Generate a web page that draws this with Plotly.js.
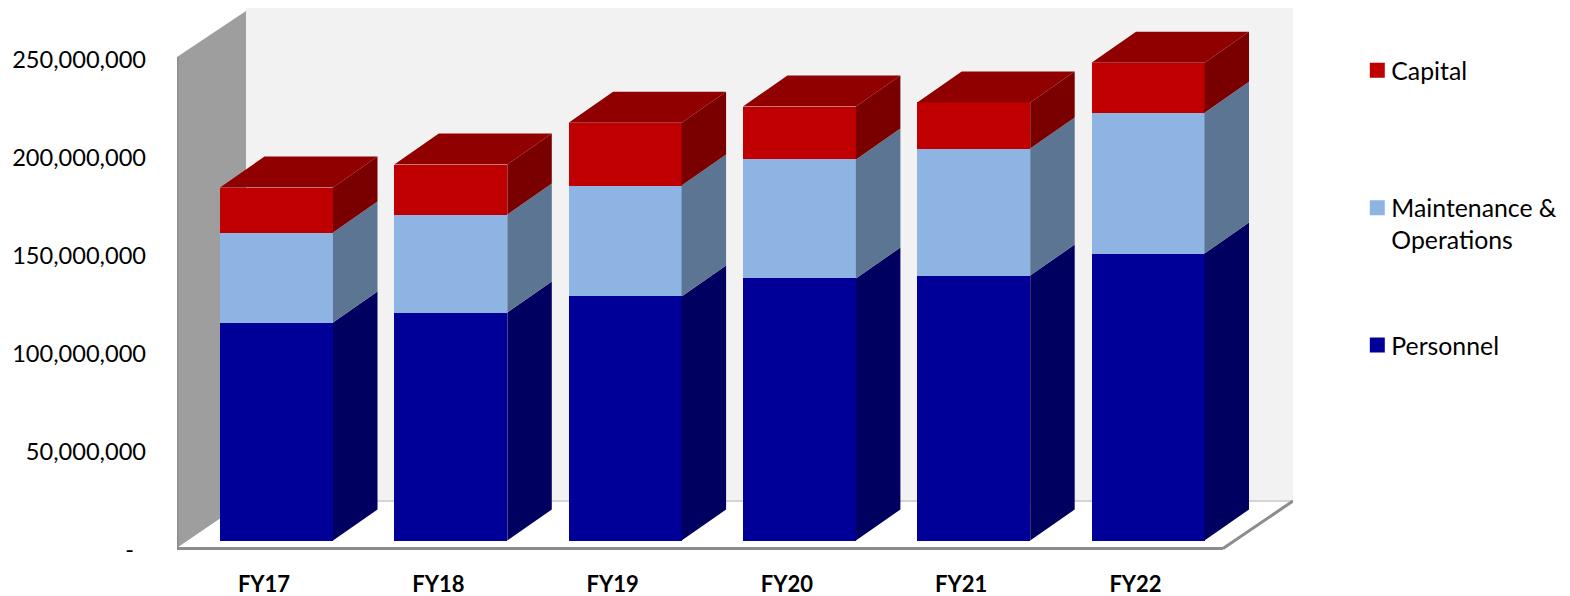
<!DOCTYPE html>
<html>
<head>
<meta charset="utf-8">
<script src="https://cdn.plot.ly/plotly-3.0.1.min.js"></script>
<style>html,body{margin:0;padding:0;background:#fff}#chart{width:1570px;height:596px}</style>
</head>
<body>
<div id="chart"></div>
<script>
var categories = ["FY17","FY18","FY19","FY20","FY21","FY22"];
var personnel = [111200000,116300000,124500000,133700000,135200000,146400000];
var maintenance = [45900000,50000000,56600000,60700000,64800000,71900000];
var capital = [23000000,25500000,32100000,27000000,23500000,25500000];
var yTicks = [0,50000000,100000000,150000000,200000000,250000000];
var yTickText = ["-\u00a0\u00a0","50,000,000","100,000,000","150,000,000","200,000,000","250,000,000"];

var FONT = "Lato, 'Open Sans', sans-serif";
var pxPerCat = 174.3, pxPerVal = 98/50000000;
var plotL = 177, plotR = 1293, plotT = 8, plotB = 550;
var cat0Px = 276.5, zeroPx = 540.5, labelZeroPx = 550;
function X(px){ return (px-cat0Px)/pxPerCat; }
function Y(px){ return (zeroPx-px)/pxPerVal; }
var depthX = 44.5/pxPerCat, depthY = 31/pxPerVal, barW = 113/pxPerCat;
var idx = categories.map(function(_,i){return i;});

function sidePoly(base, val){
  var xs=[], ys=[];
  idx.forEach(function(i){
    var r=i+barW/2, b=base[i], t=base[i]+val[i];
    xs.push(r,r+depthX,r+depthX,r,r,null);
    ys.push(b,b+depthY,t+depthY,t,b,null);
  });
  return {x:xs,y:ys};
}
function topPoly(top){
  var xs=[], ys=[];
  idx.forEach(function(i){
    var l=i-barW/2, r=i+barW/2, t=top[i];
    xs.push(l,r,r+depthX,l+depthX,l,null);
    ys.push(t,t,t+depthY,t+depthY,t,null);
  });
  return {x:xs,y:ys};
}
var base0 = idx.map(function(){return 0;});
var base1 = personnel.slice();
var base2 = idx.map(function(i){return personnel[i]+maintenance[i];});
var tops = idx.map(function(i){return base2[i]+capital[i];});

function bar(name,vals,col,rank){
  return {type:'bar',name:name,x:idx,y:vals,width:barW,legendgroup:name,legendrank:rank,hoverinfo:'y+name',
    marker:{color:col,line:{width:0}}};
}
function face(p,col){
  return {type:'scatter',mode:'lines',x:p.x,y:p.y,fill:'toself',fillcolor:col,
    line:{width:0,color:col},showlegend:false,hoverinfo:'skip'};
}
var traces = [
  bar('Personnel',personnel,'#000099',3),
  bar('Maintenance &<br>Operations',maintenance,'#8db4e2',2),
  bar('Capital',capital,'#c00000',1),
  face(sidePoly(base0,personnel),'#000060'),
  face(sidePoly(base1,maintenance),'#5c7593'),
  face(sidePoly(base2,capital),'#7a0000'),
  face(topPoly(tops),'#910000'),
  {type:'scatter',mode:'markers',x:[0],y:[0],yaxis:'y2',marker:{opacity:0},showlegend:false,hoverinfo:'skip'}
];

function poly(pts,fill){
  var d = pts.map(function(p,i){return (i?'L':'M')+X(p[0])+','+Y(p[1]);}).join(' ')+' Z';
  return {type:'path',xref:'x',yref:'y',layer:'below',path:d,fillcolor:fill,line:{color:fill,width:0}};
}
function seg(a,b,col,w){
  return {type:'line',xref:'x',yref:'y',layer:'below',x0:X(a[0]),y0:Y(a[1]),x1:X(b[0]),y1:Y(b[1]),line:{color:col,width:w}};
}
var shapes = [
  poly([[246,8],[1293,8],[1293,501],[246,501]],'#f2f2f2'),
  poly([[177,57],[246,11],[246,501],[177,548]],'#9e9e9e'),
  poly([[177,548],[246,501],[1293,501],[1223,548]],'#ffffff'),
  seg([246,501],[1293,501],'#d4d4d4',2),
  seg([177,57],[177,548.5],'#8c8c8c',3),
  seg([177,548.5],[1223,548.5],'#8c8c8c',3),
  seg([1223,548.5],[1293,501],'#8c8c8c',3)
];

var layout = {
  width:1570,height:596,
  paper_bgcolor:'#fff',plot_bgcolor:'rgba(0,0,0,0)',
  barmode:'stack',
  margin:{l:plotL,r:1570-plotR,t:plotT,b:596-plotB,pad:0},
  font:{family:FONT,color:'#000'},
  xaxis:{range:[X(plotL),X(plotR)],tickmode:'array',
    tickvals:idx.map(function(i){return i-12.5/pxPerCat;}),ticktext:categories,
    showgrid:false,zeroline:false,showline:false,ticks:'',ticklabelstandoff:19,
    tickfont:{family:FONT,size:22,color:'#000',weight:700},fixedrange:true},
  yaxis:{range:[Y(plotB),Y(plotT)],showgrid:false,zeroline:false,showline:false,ticks:'',showticklabels:false,fixedrange:true},
  yaxis2:{overlaying:'y',anchor:'x',side:'left',
    range:[(labelZeroPx-plotB)/pxPerVal,(labelZeroPx-plotT)/pxPerVal],
    tickmode:'array',tickvals:yTicks,ticktext:yTickText,
    showgrid:false,zeroline:false,showline:false,ticks:'',ticklabelstandoff:30,
    tickfont:{family:FONT,size:23.6,color:'#000'},fixedrange:true},
  legend:{xref:'container',yref:'container',x:0.8607,y:0.92,xanchor:'left',yanchor:'top',
    traceorder:'grouped',tracegroupgap:86,itemwidth:30,maxheight:596,
    font:{family:FONT,size:24.8,color:'#000'},bgcolor:'rgba(0,0,0,0)'},
  shapes:shapes
};
Plotly.newPlot('chart',traces,layout,{displayModeBar:false,staticPlot:true}).then(function(gd){
  gd.querySelectorAll('.legend .traces').forEach(function(item){
    var pts = item.querySelector('.legendpoints');
    if(pts) pts.setAttribute('transform','translate(6,0)');
    var sw = item.querySelector('.legendpoints path');
    if(sw){ var c = sw.style.fill; sw.style.stroke = c; sw.style.strokeWidth = '3px'; sw.style.strokeOpacity = 1; }
    var txt = item.querySelector('.legendtext');
    if(txt && txt.textContent.indexOf('Maintenance')===0) txt.setAttribute('transform','translate(0,16)');
  });
});
</script>
</body>
</html>
